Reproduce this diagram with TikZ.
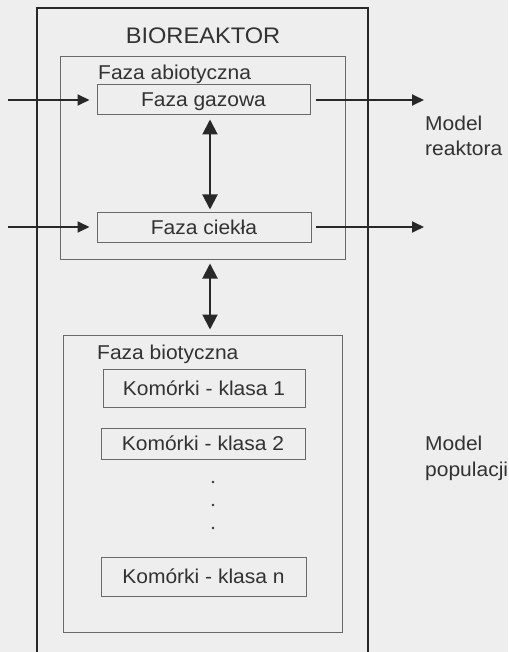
\documentclass[tikz,border=0pt]{standalone}
\usepackage{fontspec}
\setmainfont{Liberation Sans}[FakeStretch=1.05]
\usetikzlibrary{arrows.meta}
\definecolor{bg}{RGB}{238,238,238}
\definecolor{ink}{RGB}{50,50,50}
\definecolor{framec}{RGB}{40,40,40}
\definecolor{thinc}{RGB}{105,105,105}
\tikzset{
  txt/.style={text=ink, font=\fontsize{20}{25.5}\selectfont, inner sep=0pt},
  box/.style={draw=thinc, line width=1pt, rectangle, inner sep=0pt, text=ink,
    font=\fontsize{20}{25.5}\selectfont, text height=14pt, text depth=0pt},
  framebox/.style={draw=framec, line width=2pt, rectangle, inner sep=0pt},
  arr/.style={draw=framec, line width=1.8pt, -{Triangle[length=12pt,width=11pt]}},
  darr/.style={draw=framec, line width=2pt,
    {Triangle[length=15pt,width=15pt]}-{Triangle[length=15pt,width=15pt]}},
}
\begin{document}
\begin{tikzpicture}[x=1pt,y=-1pt]
\path[use as bounding box, fill=bg] (0,0) rectangle (508,652);
\clip (0,0) rectangle (508,652);

% outer reactor box (bottom edge outside the picture)
\node[framebox, minimum width=331pt, minimum height=692pt] (reaktor) at (202.5,354) {};
\node[txt, anchor=base, font=\fontsize{22.5}{26}\selectfont] (title) at (203,44) {BIOREAKTOR};

% abiotic phase
\node[box, minimum width=285pt, minimum height=202pt] (abio) at (202.5,158) {};
\node[txt, anchor=base west] (abiolab) at (98,80) {Faza abiotyczna};
\node[box, minimum width=213pt, minimum height=30pt] (gaz) at (203.5,100) {Faza gazowa};
\node[box, minimum width=214pt, minimum height=30pt] (ciek) at (204,227) {Faza ciekła};

% biotic phase
\node[box, minimum width=279pt, minimum height=297pt] (bio) at (202.5,483.5) {};
\node[txt, anchor=base west] (biolab) at (97,359) {Faza biotyczna};
\node[box, minimum width=202pt, minimum height=38pt] (k1) at (204,388) {Komórki - klasa 1};
\node[box, minimum width=204pt, minimum height=31pt] (k2) at (203,443.5) {Komórki - klasa 2};
\node[box, minimum width=205pt, minimum height=39pt] (kn) at (203.5,576.5) {Komórki - klasa n};
\fill[ink] (213,482) circle (1.3pt);
\fill[ink] (213,505) circle (1.3pt);
\fill[ink] (213,528) circle (1.3pt);

% side labels
\node[txt, anchor=base west, align=left] (mreak) at (425,156) {Model\\reaktora};
\node[txt, anchor=base west, align=left] (mpop) at (425,476) {Model\\populacji};

% inputs / outputs
\coordinate (inG) at (8,100);
\coordinate (inC) at (8,227);
\coordinate (outG) at (424,100);
\coordinate (outC) at (424,227);
\draw[arr, shorten >=7pt] (inG) -- (gaz.west);
\draw[arr, shorten >=7pt] (inC) -- (ciek.west);
\draw[arr, shorten <=5pt] (gaz.east) -- (outG);
\draw[arr, shorten <=4pt] (ciek.east) -- (outC);

% exchanges
\draw[darr, shorten <=4pt, shorten >=2pt] ([xshift=6.5pt]gaz.south) -- ([xshift=6pt]ciek.north);
\draw[darr, shorten <=4pt, shorten >=5pt] ([xshift=7.5pt]abio.south) -- ([xshift=7.5pt]bio.north);
\end{tikzpicture}
\end{document}
